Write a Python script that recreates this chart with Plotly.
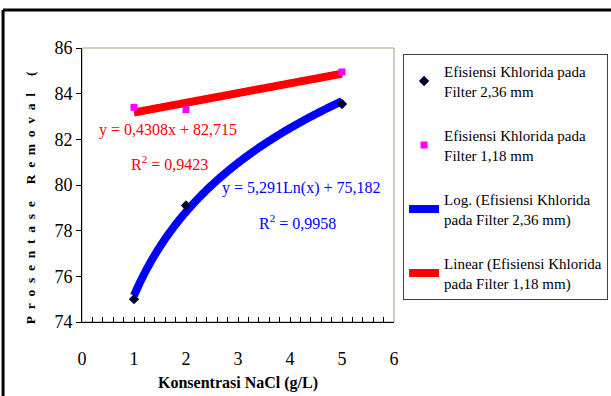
import numpy as np
import plotly.graph_objects as go

# Data
x_pts = [1, 2, 5]
y_236 = [75.0, 79.1, 83.55]
y_118 = [83.4, 83.3, 84.95]

name_236 = "Efisiensi Khlorida pada<br>Filter 2,36 mm"
name_118 = "Efisiensi Khlorida pada<br>Filter 1,18 mm"
name_log = "Log. (Efisiensi Khlorida<br>pada Filter 2,36 mm)"
name_lin = "Linear (Efisiensi Khlorida<br>pada Filter 1,18 mm)"

eq_lin = "y = 0,4308x + 82,715"
r2_lin = "R<sup>2</sup> = 0,9423"
eq_log = "y = 5,291Ln(x) + 75,182"
r2_log = "R<sup>2</sup> = 0,9958"

y_title = "Prosentase Removal ("
x_title = "Konsentrasi NaCl (g/L)"

x_ticks = [0, 1, 2, 3, 4, 5, 6]
y_ticks = [74, 76, 78, 80, 82, 84, 86]

# Trendlines (least-squares fits of the data, as a spreadsheet trendline)
xa = np.array(x_pts, dtype=float)
b_log, a_log = np.polyfit(np.log(xa), np.array(y_236), 1)
b_lin, a_lin = np.polyfit(xa, np.array(y_118), 1)
xt = np.linspace(1, 5, 200)
yt_log = a_log + b_log * np.log(xt)
yt_lin = a_lin + b_lin * xt

FONT = "Liberation Serif"

fig = go.Figure()
fig.add_trace(go.Scatter(x=xt, y=yt_log, mode="lines", name=name_log,
                         line=dict(color="#0000FF", width=8, simplify=False),
                         legendrank=3, legendgroup="c"))
fig.add_trace(go.Scatter(x=xt, y=yt_lin, mode="lines", name=name_lin,
                         line=dict(color="#FF0000", width=8, simplify=False),
                         legendrank=4, legendgroup="d"))
fig.add_trace(go.Scatter(x=x_pts, y=y_236, mode="markers", name=name_236,
                         marker=dict(symbol="diamond", color="#000033", size=8),
                         legendrank=1, legendgroup="a"))
fig.add_trace(go.Scatter(x=x_pts, y=y_118, mode="markers", name=name_118,
                         marker=dict(symbol="square", color="#FF00FF", size=7),
                         legendrank=2, legendgroup="b"))

ann = [
    dict(x=1.65, y=82.41, text=eq_lin, color="#FF0000"),
    dict(x=1.69, y=80.96, text=r2_lin, color="#FF0000"),
    dict(x=4.21, y=79.87, text=eq_log, color="#0000FF"),
    dict(x=4.15, y=78.38, text=r2_log, color="#0000FF"),
]
for a in ann:
    fig.add_annotation(x=a["x"], y=a["y"], xref="x", yref="y", text=a["text"],
                       showarrow=False, font=dict(family=FONT, size=16, color=a["color"]))

spaced_y = "\u2002".join(list(y_title))
fig.add_annotation(x=-0.167, y=0.455, xref="paper", yref="paper", textangle=-90,
                   xanchor="center", yanchor="middle",
                   text="<b>" + spaced_y + "</b>", showarrow=False,
                   font=dict(family=FONT, size=13.5, color="black"))
fig.add_annotation(x=0.5, y=-0.223, xref="paper", yref="paper",
                   xanchor="center", yanchor="middle",
                   text="<b>" + x_title + "</b>",
                   showarrow=False, font=dict(family=FONT, size=16, color="black"))

# plot-area border (olive) and outer frame lines
fig.add_shape(type="rect", xref="paper", yref="paper", x0=0, y0=0, x1=1, y1=1,
              line=dict(color="#A0A078", width=1), layer="below")
fig.add_shape(type="line", xref="paper", yref="paper", x0=-0.253, y0=1.139, x1=1.8, y1=1.139,
              line=dict(color="black", width=3))
fig.add_shape(type="line", xref="paper", yref="paper", x0=-0.253, y0=1.139, x1=-0.253, y1=-0.3,
              line=dict(color="black", width=3))

fig.update_layout(
    width=611, height=396,
    margin=dict(l=82, r=217, t=48, b=74, autoexpand=False),
    paper_bgcolor="white", plot_bgcolor="white",
    font=dict(family=FONT, size=16, color="black"),
    legend=dict(x=1.029, y=0.978, xanchor="left", yanchor="top",
                bordercolor="#404040", borderwidth=1, bgcolor="white",
                font=dict(family=FONT, size=15), tracegroupgap=22,
                traceorder="grouped"),
    showlegend=True,
)
fig.update_xaxes(range=[0, 6], tickvals=x_ticks, ticktext=[str(v) for v in x_ticks],
                 automargin=False,
                 showgrid=False, zeroline=False, showline=True, linecolor="black", linewidth=1,
                 ticks="inside", ticklen=5, tickcolor="black", ticklabelstandoff=20,
                 minor=dict(ticks="inside", dtick=0.2, ticklen=5, tickcolor="black"),
                 tickfont=dict(family=FONT, size=18))
fig.update_yaxes(range=[74, 86], tickvals=y_ticks, ticktext=[str(v) for v in y_ticks],
                 automargin=False,
                 showgrid=False, zeroline=False, showline=True, linecolor="black", linewidth=1,
                 ticks="outside", ticklen=5, tickcolor="black",
                 tickfont=dict(family=FONT, size=18))

fig.write_html("out.html", config={"displayModeBar": False},
               post_script="document.body.style.margin='0';document.body.style.overflow='hidden';")
